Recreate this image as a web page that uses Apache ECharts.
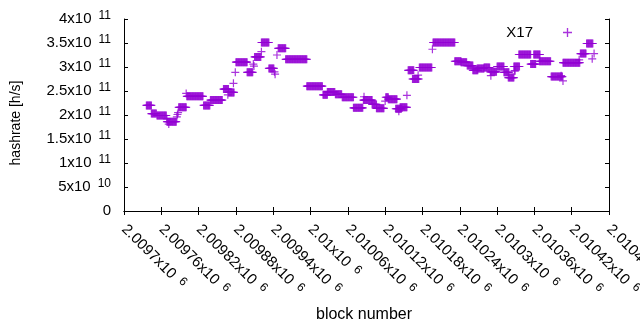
<!DOCTYPE html>
<html>
<head>
<meta charset="utf-8">
<script src="https://cdn.jsdelivr.net/npm/echarts@6/dist/echarts.min.js"></script>
<style>
  html, body { margin: 0; padding: 0; background: #fff; }
  #chart { width: 640px; height: 330px; }
</style>
</head>
<body>
<div id="chart"></div>
<script>
// runs of blocks sharing the same estimate, rate in units of 1e9 h/s
var runStart = [2009736, 2009744, 2009753, 2009769, 2009769, 2009772, 2009785, 2009786, 2009787, 2009788,
                2009800, 2009801, 2009828, 2009839, 2009860, 2009867, 2009868, 2009876, 2009879, 2009880,
                2009898, 2009908, 2009909, 2009910, 2009921, 2009921, 2009933, 2009942, 2009943, 2009946,
                2009948, 2009960, 2009994, 2010020, 2010027, 2010040, 2010051, 2010069, 2010085, 2010086,
                2010099, 2010106, 2010120, 2010121, 2010125, 2010137, 2010142, 2010144, 2010155, 2010157,
                2010164, 2010173, 2010175, 2010196, 2010197, 2010232, 2010242, 2010252, 2010261, 2010268,
                2010279, 2010289, 2010290, 2010300, 2010311, 2010318, 2010327, 2010328, 2010335, 2010354,
                2010359, 2010368, 2010387, 2010403, 2010406, 2010406, 2010432, 2010434, 2010444, 2010453,
                2010456];
var runEnd   = [2009744, 2009752, 2009768, 2009769, 2009784, 2009772, 2009785, 2009786, 2009787, 2009800,
                2009800, 2009827, 2009838, 2009858, 2009868, 2009867, 2009877, 2009876, 2009879, 2009898,
                2009907, 2009908, 2009909, 2009920, 2009921, 2009933, 2009941, 2009942, 2009943, 2009946,
                2009960, 2009994, 2010019, 2010027, 2010039, 2010050, 2010069, 2010084, 2010099, 2010086,
                2010106, 2010118, 2010120, 2010125, 2010139, 2010146, 2010142, 2010155, 2010155, 2010166,
                2010174, 2010173, 2010195, 2010196, 2010232, 2010242, 2010251, 2010261, 2010269, 2010279,
                2010288, 2010299, 2010290, 2010311, 2010319, 2010327, 2010336, 2010329, 2010354, 2010362,
                2010369, 2010386, 2010405, 2010403, 2010406, 2010433, 2010432, 2010443, 2010454, 2010453,
                2010456];
var runRate  = [220, 203, 199, 192, 186, 181, 196, 201, 205, 216,
                245, 239, 220, 231, 254, 242, 247, 266, 289, 310,
                289, 306, 302, 321, 332, 351, 297, 290, 285, 325,
                339, 316, 260, 242, 248, 243, 237, 215, 231, 238,
                222, 214, 229, 237, 233, 213, 208, 216, 241, 293,
                275, 283, 299, 337, 351, 312, 310, 303, 293, 297,
                299, 290, 282, 301, 289, 278, 301, 292, 326, 306,
                326, 312, 280, 282, 271, 309, 315, 328, 349, 317,
                328];

var yTicks = [0, 5e10, 1e11, 1.5e11, 2e11, 2.5e11, 3e11, 3.5e11, 4e11];

var points = [];
for (var i = 0; i < runStart.length; i++) {
    for (var b = runStart[i]; b <= runEnd[i]; b++) {
        points.push([b, runRate[i] * 1e9]);
    }
}

var plus = 'path://M3.4,0H4.6V3.4H8V4.6H4.6V8H3.4V4.6H0V3.4H3.4Z';
var font = 'Liberation Sans';

function sci(v) {
    if (v === 0) return '{m|0}';
    var e = Math.floor(Math.log10(v) + 1e-9);
    var m = parseFloat((v / Math.pow(10, e)).toPrecision(8));
    return '{m|' + m + 'x10}{s|' + e + '}';
}
var rich = {
    m: {fontFamily: font, fontSize: 15, color: '#000'},
    s: {fontFamily: font, fontSize: 12, color: '#000', padding: [0, 0, 6, 7]}
};

var option = {
    animation: false,
    grid: {left: 124, right: 31, top: 19, bottom: 119, outerBoundsMode: 'none', containLabel: false},
    legend: {
        data: ['X17'],
        right: 63,
        top: 20,
        align: 'right',
        icon: plus,
        itemWidth: 9,
        itemHeight: 9,
        textStyle: {fontFamily: font, fontSize: 15, color: '#000', padding: [0, 25, 0, 0]}
    },
    xAxis: [{
        type: 'value',
        min: 2009700,
        max: 2010480,
        interval: 60,
        name: 'block number',
        nameLocation: 'middle',
        nameGap: 96,
        nameTextStyle: {fontFamily: font, fontSize: 16, color: '#000', padding: [0, 5, 0, 0]},
        axisLine: {lineStyle: {color: '#000', width: 1}},
        axisTick: {inside: true, length: 4, lineStyle: {color: '#000'}},
        splitLine: {show: false},
        axisLabel: {
            rotate: -45,
            margin: 16,
            color: '#000',
            fontFamily: font,
            fontSize: 15,
            formatter: function (v) { return sci(v); },
            rich: rich
        }
    }, {
        type: 'value',
        position: 'top',
        min: 2009700,
        max: 2010480,
        interval: 60,
        axisLine: {lineStyle: {color: '#000', width: 1}},
        axisTick: {inside: true, length: 4, lineStyle: {color: '#000'}},
        axisLabel: {show: false},
        splitLine: {show: false}
    }],
    yAxis: [{
        type: 'value',
        min: yTicks[0],
        max: yTicks[yTicks.length - 1],
        interval: yTicks[1] - yTicks[0],
        name: 'hashrate [h/s]',
        nameLocation: 'middle',
        nameGap: 101,
        nameTextStyle: {fontFamily: font, fontSize: 14, color: '#000', padding: [0, 16, 0, 0]},
        axisLine: {show: true, lineStyle: {color: '#000', width: 1}},
        axisTick: {show: true, inside: true, length: 4, lineStyle: {color: '#000'}},
        splitLine: {show: false},
        axisLabel: {
            margin: 13,
            color: '#000',
            fontFamily: font,
            fontSize: 15,
            formatter: function (v) { return sci(v); },
            rich: rich
        }
    }, {
        type: 'value',
        position: 'right',
        min: yTicks[0],
        max: yTicks[yTicks.length - 1],
        interval: yTicks[1] - yTicks[0],
        axisLine: {show: true, lineStyle: {color: '#000', width: 1}},
        axisTick: {show: true, inside: true, length: 4, lineStyle: {color: '#000'}},
        axisLabel: {show: false},
        splitLine: {show: false}
    }],
    series: [{
        name: 'X17',
        type: 'scatter',
        symbol: plus,
        symbolSize: 8,
        itemStyle: {color: '#9400d3'},
        data: points
    }]
};

var chart = echarts.init(document.getElementById('chart'));
chart.setOption(option);
</script>
</body>
</html>
